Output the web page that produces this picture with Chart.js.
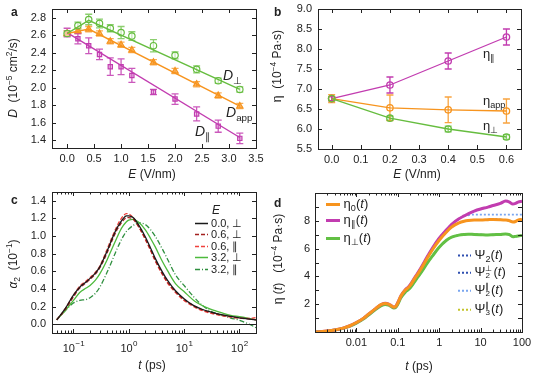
<!DOCTYPE html>
<html>
<head>
<meta charset="utf-8">
<script src="https://cdn.jsdelivr.net/npm/chart.js@4.4.1/dist/chart.umd.min.js"></script>
<style>
  body { margin: 0; background: #fff; width: 534px; height: 382px; position: relative; overflow: hidden;
         font-family: "Liberation Sans", Arial, sans-serif; color: #222; }
  canvas { position: absolute; }
  .t { position: absolute; white-space: nowrap; line-height: 1; font-size: 12px; }
  .c { transform: translate(-50%, -50%); }
  .l { transform: translateY(-50%); }
  .r { transform: translate(-50%, -50%) rotate(-90deg); }
  .p { font-weight: bold; font-size: 12px; }
  sup, sub { font-size: 0.7em; line-height: 0; }
  .ss { display: inline-block; vertical-align: middle; font-size: 0.62em; line-height: 0.85; text-align: left; margin-right: 1px; }
</style>
</head>
<body>
<canvas id="chartA" width="267" height="190" style="left:0;top:0"></canvas>
<canvas id="chartB" width="267" height="190" style="left:267px;top:0"></canvas>
<canvas id="chartC" width="267" height="192" style="left:0;top:190px"></canvas>
<canvas id="chartD" width="267" height="192" style="left:267px;top:190px"></canvas>

<div class="t p" style="left:11px;top:6px">a</div>
<div class="t p" style="left:274px;top:6px">b</div>
<div class="t p" style="left:11px;top:194px">c</div>
<div class="t p" style="left:274px;top:197px">d</div>

<div class="t r" style="left:13px;top:78px"><i>D</i>&nbsp; (10<sup>−5</sup> cm<sup>2</sup>/s)</div>
<div class="t c" style="left:152px;top:174px"><i>E</i> (V/nm)</div>
<div class="t r" style="left:277px;top:66px">η&nbsp; (10<sup>−4</sup> Pa·s)</div>
<div class="t c" style="left:417px;top:174px"><i>E</i> (V/nm)</div>
<div class="t r" style="left:13px;top:264px"><i>α</i><sub>2</sub>&nbsp; (10<sup>−1</sup>)</div>
<div class="t c" style="left:152px;top:365px"><i>t</i> (ps)</div>
<div class="t r" style="left:278px;top:259px">η (<i>t</i>)&nbsp;&nbsp; (10<sup>−4</sup> Pa·s)</div>
<div class="t c" style="left:419px;top:366px"><i>t</i> (ps)</div>

<div class="t l" style="left:223px;top:75px;font-size:14px"><i>D</i><sub>⊥</sub></div>
<div class="t l" style="left:226px;top:112px;font-size:14px"><i>D</i><sub>app</sub></div>
<div class="t l" style="left:195px;top:131px;font-size:14px"><i>D</i><sub>∥</sub></div>
<div class="t l" style="left:483px;top:53px;font-size:13px">η<sub>∥</sub></div>
<div class="t l" style="left:483px;top:100px;font-size:13px">η<sub>app</sub></div>
<div class="t l" style="left:483px;top:125px;font-size:13px">η<sub>⊥</sub></div>

<div class="t c" style="left:216px;top:210px"><i>E</i></div>
<div id="legC"></div>
<div id="legD"></div>

<script>
// ---- panel a: diffusion coefficients vs field ----
const eA = [0, 0.2, 0.4, 0.6, 0.8, 1.0, 1.2, 1.6, 2.0, 2.4, 2.8, 3.2];
const dPerp = [2.62, 2.71, 2.78, 2.735, 2.68, 2.63, 2.59, 2.48, 2.37, 2.21, 2.08, 1.98];
const dPerpErr = [0.03, 0.04, 0.06, 0.05, 0.04, 0.07, 0.05, 0.07, 0.04, 0.04, 0.03, 0.03];
const dApp = [2.62, 2.65, 2.67, 2.62, 2.53, 2.49, 2.43, 2.29, 2.19, 2.04, 1.91, 1.79];
const dAppErr = [0.03, 0.03, 0.03, 0.03, 0.03, 0.03, 0.03, 0.03, 0.03, 0.03, 0.03, 0.03];
const dPar = [2.63, 2.56, 2.48, 2.38, 2.24, 2.24, 2.14, 1.95, 1.87, 1.70, 1.56, 1.42];
const dParErr = [0.05, 0.06, 0.09, 0.06, 0.10, 0.09, 0.08, 0.03, 0.06, 0.08, 0.07, 0.06];
const fitPerpX = [0, 0.4, 3.2], fitPerpY = [2.62, 2.77, 1.98];
const fitAppX = [0, 0.4, 3.2], fitAppY = [2.62, 2.67, 1.79];
const fitParX = [0, 3.2], fitParY = [2.63, 1.43];
const ticksAx = [0, 0.5, 1.0, 1.5, 2.0, 2.5, 3.0, 3.5];
const ticksAy = [1.4, 1.6, 1.8, 2.0, 2.2, 2.4, 2.6, 2.8];

// ---- panel b: viscosities vs field ----
const eB = [0, 0.2, 0.4, 0.6];
const etaPar = [6.76, 7.1, 7.7, 8.3];
const etaParErr = [0.05, 0.2, 0.2, 0.2];
const etaApp = [6.76, 6.53, 6.48, 6.45];
const etaAppErr = [0.1, 0.32, 0.32, 0.3];
const etaPerp = [6.76, 6.27, 6.0, 5.8];
const etaPerpErr = [0.05, 0.05, 0.07, 0.06];
const ticksBx = [0, 0.1, 0.2, 0.3, 0.4, 0.5, 0.6];
const ticksBy = [5.5, 6.0, 6.5, 7.0, 7.5, 8.0, 8.5, 9.0];

// ---- panel c: non-Gaussian parameter ----
const tC = [0.05, 0.07, 0.1, 0.13, 0.17, 0.2, 0.25, 0.3, 0.4, 0.5, 0.6, 0.7, 0.8, 0.9, 1.0, 1.2, 1.5,
            2, 2.5, 3, 4, 5, 7, 10, 15, 20, 30, 50, 70, 100, 150, 200];
const a00perp = [0.05, 0.17, 0.33, 0.42, 0.48, 0.52, 0.58, 0.65, 0.82, 0.97, 1.08, 1.15, 1.20, 1.23, 1.23, 1.21, 1.13,
                 0.99, 0.86, 0.75, 0.60, 0.50, 0.38, 0.29, 0.21, 0.175, 0.14, 0.105, 0.088, 0.072, 0.058, 0.048];
const a06perp = [0.05, 0.16, 0.31, 0.41, 0.47, 0.51, 0.57, 0.64, 0.80, 0.95, 1.06, 1.13, 1.18, 1.205, 1.21, 1.19, 1.11,
                 0.97, 0.84, 0.73, 0.58, 0.48, 0.37, 0.28, 0.21, 0.17, 0.135, 0.10, 0.085, 0.07, 0.06, 0.05];
const a06par = [0.05, 0.17, 0.33, 0.43, 0.49, 0.53, 0.59, 0.66, 0.84, 0.99, 1.10, 1.18, 1.23, 1.255, 1.25, 1.21, 1.11,
                0.96, 0.83, 0.72, 0.57, 0.47, 0.36, 0.27, 0.20, 0.16, 0.125, 0.095, 0.08, 0.07, 0.065, 0.075];
const a32perp = [0.05, 0.15, 0.27, 0.36, 0.41, 0.44, 0.50, 0.57, 0.72, 0.86, 0.97, 1.06, 1.12, 1.16, 1.18, 1.19, 1.16,
                 1.07, 0.97, 0.88, 0.72, 0.61, 0.46, 0.37, 0.27, 0.22, 0.17, 0.125, 0.10, 0.085, 0.065, 0.05];
const a32par = [0.05, 0.15, 0.24, 0.27, 0.28, 0.30, 0.35, 0.42, 0.58, 0.72, 0.84, 0.93, 1.00, 1.05, 1.08, 1.12, 1.15,
                1.13, 1.07, 1.00, 0.86, 0.74, 0.56, 0.44, 0.31, 0.23, 0.15, 0.10, 0.07, 0.045, 0.0, -0.04];
const ticksCx = [0.1, 1, 10, 100];
const ticksCy = [0, 0.2, 0.4, 0.6, 0.8, 1.0, 1.2, 1.4];

// ---- panel d: running viscosity ----
const tD = [0.001, 0.0015, 0.002, 0.003, 0.005, 0.007, 0.01, 0.015, 0.02, 0.03, 0.04, 0.05, 0.06, 0.07, 0.08, 0.09,
            0.1, 0.12, 0.15, 0.18, 0.2, 0.25, 0.3, 0.4, 0.5, 0.7, 1, 1.5, 2, 3, 4, 5, 7, 10, 15, 20, 30, 40, 50, 60, 70, 80, 100];
const eta0 = [0, 0.03, 0.07, 0.15, 0.3, 0.45, 0.68, 1.0, 1.3, 1.72, 1.98, 2.05, 2.0, 1.88, 1.78, 1.85,
              2.1, 2.6, 3.0, 3.2, 3.35, 3.8, 4.15, 4.75, 5.25, 5.95, 6.6, 7.2, 7.55, 7.85, 7.97, 8.02, 8.05, 8.05, 8.08, 8.1, 8.08, 8.05, 8.0, 7.92, 7.95, 8.05, 8.1];
const etaParT = [0, 0.03, 0.07, 0.15, 0.3, 0.45, 0.68, 1.0, 1.3, 1.72, 1.98, 2.06, 2.01, 1.89, 1.79, 1.86,
                 2.12, 2.62, 3.03, 3.24, 3.4, 3.86, 4.22, 4.84, 5.36, 6.08, 6.75, 7.35, 7.75, 8.15, 8.35, 8.5, 8.7, 8.85, 8.98, 9.1, 9.25, 9.42, 9.35, 9.2, 9.25, 9.35, 9.4];
const etaPerpT = [0, 0.03, 0.06, 0.14, 0.28, 0.42, 0.64, 0.95, 1.24, 1.65, 1.9, 1.98, 1.93, 1.82, 1.72, 1.78,
                  2.0, 2.48, 2.85, 3.05, 3.18, 3.58, 3.92, 4.45, 4.9, 5.5, 6.1, 6.6, 6.82, 6.97, 7.02, 7.04, 7.02, 7.0, 6.98, 7.0, 7.02, 7.05, 7.0, 6.85, 6.88, 6.9, 6.95];
const psi2ParT = [0, 0.03, 0.07, 0.15, 0.3, 0.45, 0.68, 1.0, 1.3, 1.72, 1.98, 2.06, 2.01, 1.89, 1.79, 1.86,
                  2.12, 2.62, 3.03, 3.24, 3.4, 3.86, 4.22, 4.84, 5.36, 6.08, 6.75, 7.35, 7.75, 8.15, 8.33, 8.4, 8.45, 8.45, 8.45, 8.45, 8.45, 8.45, 8.45, 8.45, 8.45, 8.45, 8.45];
const ticksDx = [0.01, 0.1, 1, 10, 100];
const ticksDy = [1, 2, 3, 4, 5, 6, 7, 8, 9];

const GREEN = '#66bd3f', ORANGE = '#f7941e', MAGENTA = '#c23cb0';
const FONT = '"Liberation Sans", Arial, sans-serif';

Chart.defaults.font.family = FONT;
Chart.defaults.font.size = 11;
Chart.defaults.color = '#222';

function pts(xs, ys) {
  return xs.map((x, i) => ({ x: x, y: ys[i] }));
}

// pin axis box sizes so the plot area lands where the figure has it
function fix(size) {
  return s => {
    if (s.isHorizontal()) s.height = size; else s.width = size;
    s.paddingLeft = s.paddingRight = s.paddingTop = s.paddingBottom = 0;
  };
}

function axis(type, min, max, tickVals, box, pad, fmt, show) {
  return {
    type: type, min: min, max: max, bounds: 'data',
    grid: { display: false, drawTicks: false }, border: { display: false },
    afterBuildTicks: s => { s.ticks = tickVals.map(v => ({ value: v })); },
    ticks: { autoSkip: false, maxRotation: 0, padding: pad, display: show !== false, callback: fmt },
    afterFit: fix(box)
  };
}

// frame on all four sides + inward tick marks (minor ones on log axes)
const frameTicks = {
  id: 'frameTicks',
  afterDraw(chart, args, opts) {
    const { ctx, chartArea: a, scales } = chart;
    ctx.save();
    ctx.strokeStyle = '#222';
    ctx.lineWidth = 1;
    ctx.strokeRect(Math.round(a.left) + 0.5, Math.round(a.top) + 0.5, Math.round(a.right - a.left), Math.round(a.bottom - a.top));
    const mark = (s, v, len) => {
      const p = Math.round(s.getPixelForValue(v)) + 0.5;
      ctx.beginPath();
      if (s.isHorizontal()) {
        ctx.moveTo(p, a.bottom); ctx.lineTo(p, a.bottom - len);
        ctx.moveTo(p, a.top); ctx.lineTo(p, a.top + len);
      } else {
        ctx.moveTo(a.left, p); ctx.lineTo(a.left + len, p);
        ctx.moveTo(a.right, p); ctx.lineTo(a.right - len, p);
      }
      ctx.stroke();
    };
    [scales.x, scales.y].forEach(s => {
      s.ticks.forEach(t => mark(s, t.value, 4));
      if (s.type === 'logarithmic') {
        for (let e = Math.floor(Math.log10(s.min)); e <= Math.ceil(Math.log10(s.max)); e++) {
          for (let k = 2; k <= 9; k++) {
            const v = k * Math.pow(10, e);
            if (v >= s.min && v <= s.max) mark(s, v, 2.5);
          }
        }
      }
    });
    if (opts && opts.pow10) {
      const s = scales.x;
      s.ticks.forEach(t => {
        const p = s.getPixelForValue(t.value);
        const e = Math.round(Math.log10(t.value));
        const exp = e < 0 ? '\u2212' + (-e) : String(e);
        ctx.fillStyle = '#222';
        ctx.textBaseline = 'alphabetic';
        ctx.font = '11px ' + FONT;
        const w1 = ctx.measureText('10').width;
        ctx.font = '8px ' + FONT;
        const w2 = ctx.measureText(exp).width;
        const x0 = p - (w1 + w2) / 2;
        ctx.font = '11px ' + FONT;
        ctx.fillText('10', x0, a.bottom + 19);
        ctx.font = '8px ' + FONT;
        ctx.fillText(exp, x0 + w1 + 0.5, a.bottom + 13);
      });
    }
    if (opts && opts.zeroLine) {
      const y0 = Math.round(scales.y.getPixelForValue(0)) + 0.5;
      ctx.lineWidth = 1.2;
      ctx.beginPath(); ctx.moveTo(a.left, y0); ctx.lineTo(a.right, y0); ctx.stroke();
    }
    ctx.restore();
  }
};

// vertical error bars with caps, drawn under the markers
const errorBars = {
  id: 'errorBars',
  beforeDatasetsDraw(chart) {
    const { ctx, scales: { x, y } } = chart;
    chart.data.datasets.forEach(ds => {
      if (!ds.errors) return;
      ctx.save();
      ctx.strokeStyle = ds.errColor || ds.borderColor;
      ctx.lineWidth = 1.3;
      ds.data.forEach((p, i) => {
        const e = ds.errors[i];
        const px = x.getPixelForValue(p.x);
        const top = y.getPixelForValue(p.y + e), bot = y.getPixelForValue(p.y - e);
        ctx.beginPath();
        ctx.moveTo(px, top); ctx.lineTo(px, bot);
        ctx.moveTo(px - 3.5, top); ctx.lineTo(px + 3.5, top);
        ctx.moveTo(px - 3.5, bot); ctx.lineTo(px + 3.5, bot);
        ctx.stroke();
      });
      ctx.restore();
    });
  }
};

const base = {
  animation: false, responsive: false, maintainAspectRatio: false,
  plugins: { legend: { display: false }, tooltip: { enabled: false } }
};

function fitLine(xs, ys, color) {
  return { data: pts(xs, ys), showLine: true, pointRadius: 0, borderColor: color, borderWidth: 1.4 };
}

function markers(xs, ys, errs, color, errColor, style, fill, radius) {
  return { data: pts(xs, ys), showLine: false, pointStyle: style, pointRadius: radius, borderWidth: 1.2,
           borderColor: color, backgroundColor: fill, errors: errs, errColor: errColor };
}

const fmt1 = v => v.toFixed(1);

// panel a
new Chart(document.getElementById('chartA'), {
  type: 'scatter',
  data: {
    datasets: [
      fitLine(fitPerpX, fitPerpY, GREEN),
      fitLine(fitAppX, fitAppY, ORANGE),
      fitLine(fitParX, fitParY, MAGENTA),
      markers(eA, dPerp, dPerpErr, GREEN, 'rgba(102,189,63,0.75)', 'circle', 'rgba(255,255,255,0.5)', 3.2),
      markers(eA, dApp, dAppErr, ORANGE, 'rgba(247,148,30,0.75)', 'triangle', 'rgba(247,148,30,0.6)', 3.6),
      markers(eA, dPar, dParErr, MAGENTA, 'rgba(194,60,176,0.85)', 'rect', 'rgba(194,60,176,0.25)', 3.0)
    ]
  },
  options: Object.assign({}, base, {
    layout: { padding: { top: 9, right: 11, left: 0, bottom: 0 } },
    scales: {
      x: axis('linear', -0.28, 3.5, ticksAx, 42, 4, fmt1),
      y: axis('linear', 1.31, 2.9, ticksAy, 52, 6, fmt1)
    }
  }),
  plugins: [frameTicks, errorBars]
});

// panel b
function seriesB(ys, errs, color, errColor) {
  return { data: pts(eB, ys), showLine: true, pointStyle: 'circle', pointRadius: 3.2, borderWidth: 1.3,
           borderColor: color, backgroundColor: 'rgba(255,255,255,0)', errors: errs, errColor: errColor };
}
new Chart(document.getElementById('chartB'), {
  type: 'scatter',
  data: {
    datasets: [
      seriesB(etaPerp, etaPerpErr, GREEN, 'rgba(102,189,63,0.75)'),
      seriesB(etaApp, etaAppErr, ORANGE, 'rgba(247,148,30,0.85)'),
      seriesB(etaPar, etaParErr, MAGENTA, MAGENTA)
    ]
  },
  options: Object.assign({}, base, {
    layout: { padding: { top: 9, right: 13, left: 0, bottom: 0 } },
    scales: {
      x: axis('linear', -0.047, 0.65, ticksBx, 41, 4, fmt1),
      y: axis('linear', 5.5, 9.0, ticksBy, 51, 6, fmt1)
    }
  }),
  plugins: [frameTicks, errorBars]
});

// panel c
const cSeries = [
  { label: '0.0, ⊥', ys: a00perp, color: '#1a1a1a', dash: [] },
  { label: '0.6, ⊥', ys: a06perp, color: '#a3201f', dash: [4, 2] },
  { label: '0.6, ∥', ys: a06par, color: '#f0413c', dash: [4, 2] },
  { label: '3.2, ⊥', ys: a32perp, color: '#4dba3c', dash: [] },
  { label: '3.2, ∥', ys: a32par, color: '#2f8f3f', dash: [5, 2, 1, 2] }
];
new Chart(document.getElementById('chartC'), {
  type: 'scatter',
  data: {
    datasets: cSeries.map(s => ({
      data: pts(tC, s.ys), showLine: true, pointRadius: 0, borderColor: s.color, borderWidth: 1.3,
      borderDash: s.dash, cubicInterpolationMode: 'monotone'
    }))
  },
  options: Object.assign({}, base, {
    layout: { padding: { top: 2, right: 11, left: 0, bottom: 0 } },
    plugins: { legend: { display: false }, tooltip: { enabled: false }, frameTicks: { pow10: true, zeroLine: true } },
    scales: {
      x: axis('logarithmic', 0.041, 200, ticksCx, 49, 4, v => '', false),
      y: axis('linear', -0.1, 1.5, ticksCy, 52, 6, fmt1)
    }
  }),
  plugins: [frameTicks]
});

// panel d
const dSeries = [
  { ys: eta0, color: ORANGE, width: 3, dash: [] },
  { ys: etaParT, color: MAGENTA, width: 3, dash: [] },
  { ys: etaPerpT, color: '#62c044', width: 3, dash: [] },
  { ys: psi2ParT, color: '#7aa6f0', width: 1.8, dash: [2, 2] },
  { ys: eta0, color: '#2f4fb0', width: 1.8, dash: [2, 2] },
  { ys: etaPerpT, color: '#2f4fb0', width: 1.8, dash: [2, 2] },
  { ys: etaParT, color: '#c4c42a', width: 1.8, dash: [2, 2] }
];
new Chart(document.getElementById('chartD'), {
  type: 'scatter',
  data: {
    datasets: dSeries.map(s => ({
      data: pts(tD, s.ys), showLine: true, pointRadius: 0, borderColor: s.color, borderWidth: s.width,
      borderDash: s.dash, cubicInterpolationMode: 'monotone'
    }))
  },
  options: Object.assign({}, base, {
    layout: { padding: { top: 3, right: 12, left: 0, bottom: 0 } },
    scales: {
      x: axis('logarithmic', 0.001, 100, ticksDx, 50, 4, v => String(v)),
      y: axis('linear', 0, 10, ticksDy, 48, 5, v => (v % 2 === 0) ? String(v) : '')
    }
  }),
  plugins: [frameTicks]
});

// legends
function sample(color, width, dash, len) {
  return '<svg width="' + len + '" height="6" style="vertical-align:middle"><line x1="0" y1="3" x2="' + len +
         '" y2="3" stroke="' + color + '" stroke-width="' + width + '" stroke-dasharray="' + dash.join(' ') + '"/></svg>';
}
const legC = document.getElementById('legC');
const rowYc = [222.5, 234, 245.5, 257, 268.5];
cSeries.forEach((s, i) => {
  const d = document.createElement('div');
  d.className = 't l';
  d.style.cssText = 'left:195px;top:' + rowYc[i] + 'px;font-size:11px';
  d.innerHTML = sample(s.color, 1.4, s.dash, 13) + '&nbsp;' + s.label;
  legC.appendChild(d);
});

const legD = document.getElementById('legD');
const etaRows = [
  { html: 'η<sub>0</sub>(<i>t</i>)', color: ORANGE, y: 203 },
  { html: 'η<sub>∥</sub>(<i>t</i>)', color: MAGENTA, y: 219 },
  { html: 'η<sub>⊥</sub>(<i>t</i>)', color: '#62c044', y: 237 }
];
etaRows.forEach(r => {
  const d = document.createElement('div');
  d.className = 't l';
  d.style.cssText = 'left:326px;top:' + r.y + 'px;font-size:13px';
  d.innerHTML = sample(r.color, 3, [], 14) + '&nbsp;' + r.html;
  legD.appendChild(d);
});
const psiRows = [
  { html: 'Ψ<sub>2</sub>(<i>t</i>)', color: '#2f4fb0', y: 254 },
  { html: 'Ψ<span class="ss">⊥<br>2</span>(<i>t</i>)', color: '#2f4fb0', y: 272 },
  { html: 'Ψ<span class="ss">∥<br>2</span>(<i>t</i>)', color: '#7aa6f0', y: 290 },
  { html: 'Ψ<span class="ss">∥<br>3</span>(<i>t</i>)', color: '#c4c42a', y: 309 }
];
psiRows.forEach(r => {
  const d = document.createElement('div');
  d.className = 't l';
  d.style.cssText = 'left:458px;top:' + r.y + 'px;font-size:13px';
  d.innerHTML = sample(r.color, 2, [2, 2], 13) + '&nbsp;' + r.html;
  legD.appendChild(d);
});
</script>
</body>
</html>
